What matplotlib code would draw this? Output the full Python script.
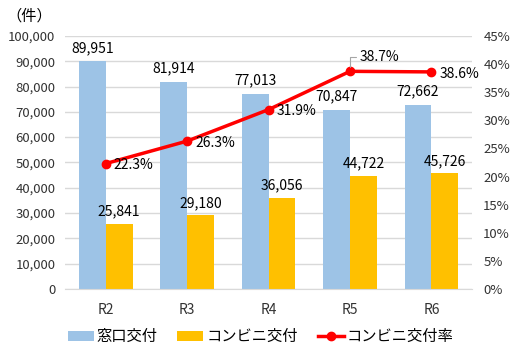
import numpy as np
import matplotlib.pyplot as plt

plt.rcParams['font.family'] = ['Noto Sans CJK JP', 'DejaVu Sans']

years = ['R2', 'R3', 'R4', 'R5', 'R6']
madoguchi = [89951, 81914, 77013, 70847, 72662]
konbini = [25841, 29180, 36056, 44722, 45726]
rate = [22.3, 26.3, 31.9, 38.7, 38.6]

blue = '#9DC3E6'
orange = '#FFC000'
red = '#FF0000'

fig = plt.figure(figsize=(5.16, 3.59), dpi=100)
ax = fig.add_axes([0.126, 0.195, 0.789, 0.705])
ax2 = ax.twinx()

x = np.arange(len(years))
w = 0.33
b1 = ax.bar(x - w / 2, madoguchi, w, color=blue, label='窓口交付', zorder=2)
b2 = ax.bar(x + w / 2, konbini, w, color=orange, label='コンビニ交付', zorder=2)

for xi, v in zip(x, madoguchi):
    ax.text(xi - w / 2, v + 2500, f'{v:,}', ha='center', va='bottom', fontsize=10)
for xi, v in zip(x, konbini):
    ax.text(xi + w / 2, v + 2000, f'{v:,}', ha='center', va='bottom', fontsize=10)

ax.set_ylim(0, 100000)
ax.set_xlim(-0.5, len(years) - 0.5)
ax.set_yticks(np.arange(0, 100001, 10000))
ax.set_yticklabels([f'{v:,}' for v in range(0, 100001, 10000)])
ax.set_xticks(x)
ax.set_xticklabels(years)
ax.yaxis.grid(True, color='#D9D9D9', linewidth=1, zorder=0)
ax.set_axisbelow(True)
for s in ['top', 'left', 'right']:
    ax.spines[s].set_visible(False)
ax.spines['bottom'].set_color('#D9D9D9')
ax.tick_params(axis='y', length=0, labelsize=9.5, colors='#333333', pad=7)
ax.tick_params(axis='x', length=0, labelsize=10, colors='#333333', pad=10)

ln, = ax2.plot(x, rate, color=red, linewidth=2.5, marker='o', markersize=6,
               label='コンビニ交付率', zorder=3)
ax2.set_ylim(0, 45)
ax2.set_yticks(np.arange(0, 46, 5))
ax2.set_yticklabels([f'{v}%' for v in range(0, 46, 5)])
ax2.tick_params(axis='y', length=0, labelsize=9.5, colors='#333333', pad=8)
for s in ['top', 'left', 'right', 'bottom']:
    ax2.spines[s].set_visible(False)

for i, (xi, r) in enumerate(zip(x, rate)):
    if i == 3:
        ax2.annotate(f'{r}%', xy=(xi, r), xytext=(xi + 0.12, r + 2.6),
                     ha='left', va='center', fontsize=10,
                     arrowprops=dict(arrowstyle='-', color='#A6A6A6', lw=0.8,
                                     connectionstyle='angle,angleA=0,angleB=90,rad=0',
                                     shrinkA=1, shrinkB=3))
    else:
        ax2.text(xi + 0.1, r - 0.3, f'{r}%', ha='left', va='center', fontsize=10)

fig.text(0.012, 0.955, '（件）', fontsize=11, ha='left', va='center')

fig.legend(handles=[b1, b2, ln], loc='lower center', bbox_to_anchor=(0.505, 0.0),
           ncol=3, frameon=False, fontsize=11, handlelength=1.7,
           columnspacing=1.3, handletextpad=0.2)

fig.savefig('out.png', dpi=100)
